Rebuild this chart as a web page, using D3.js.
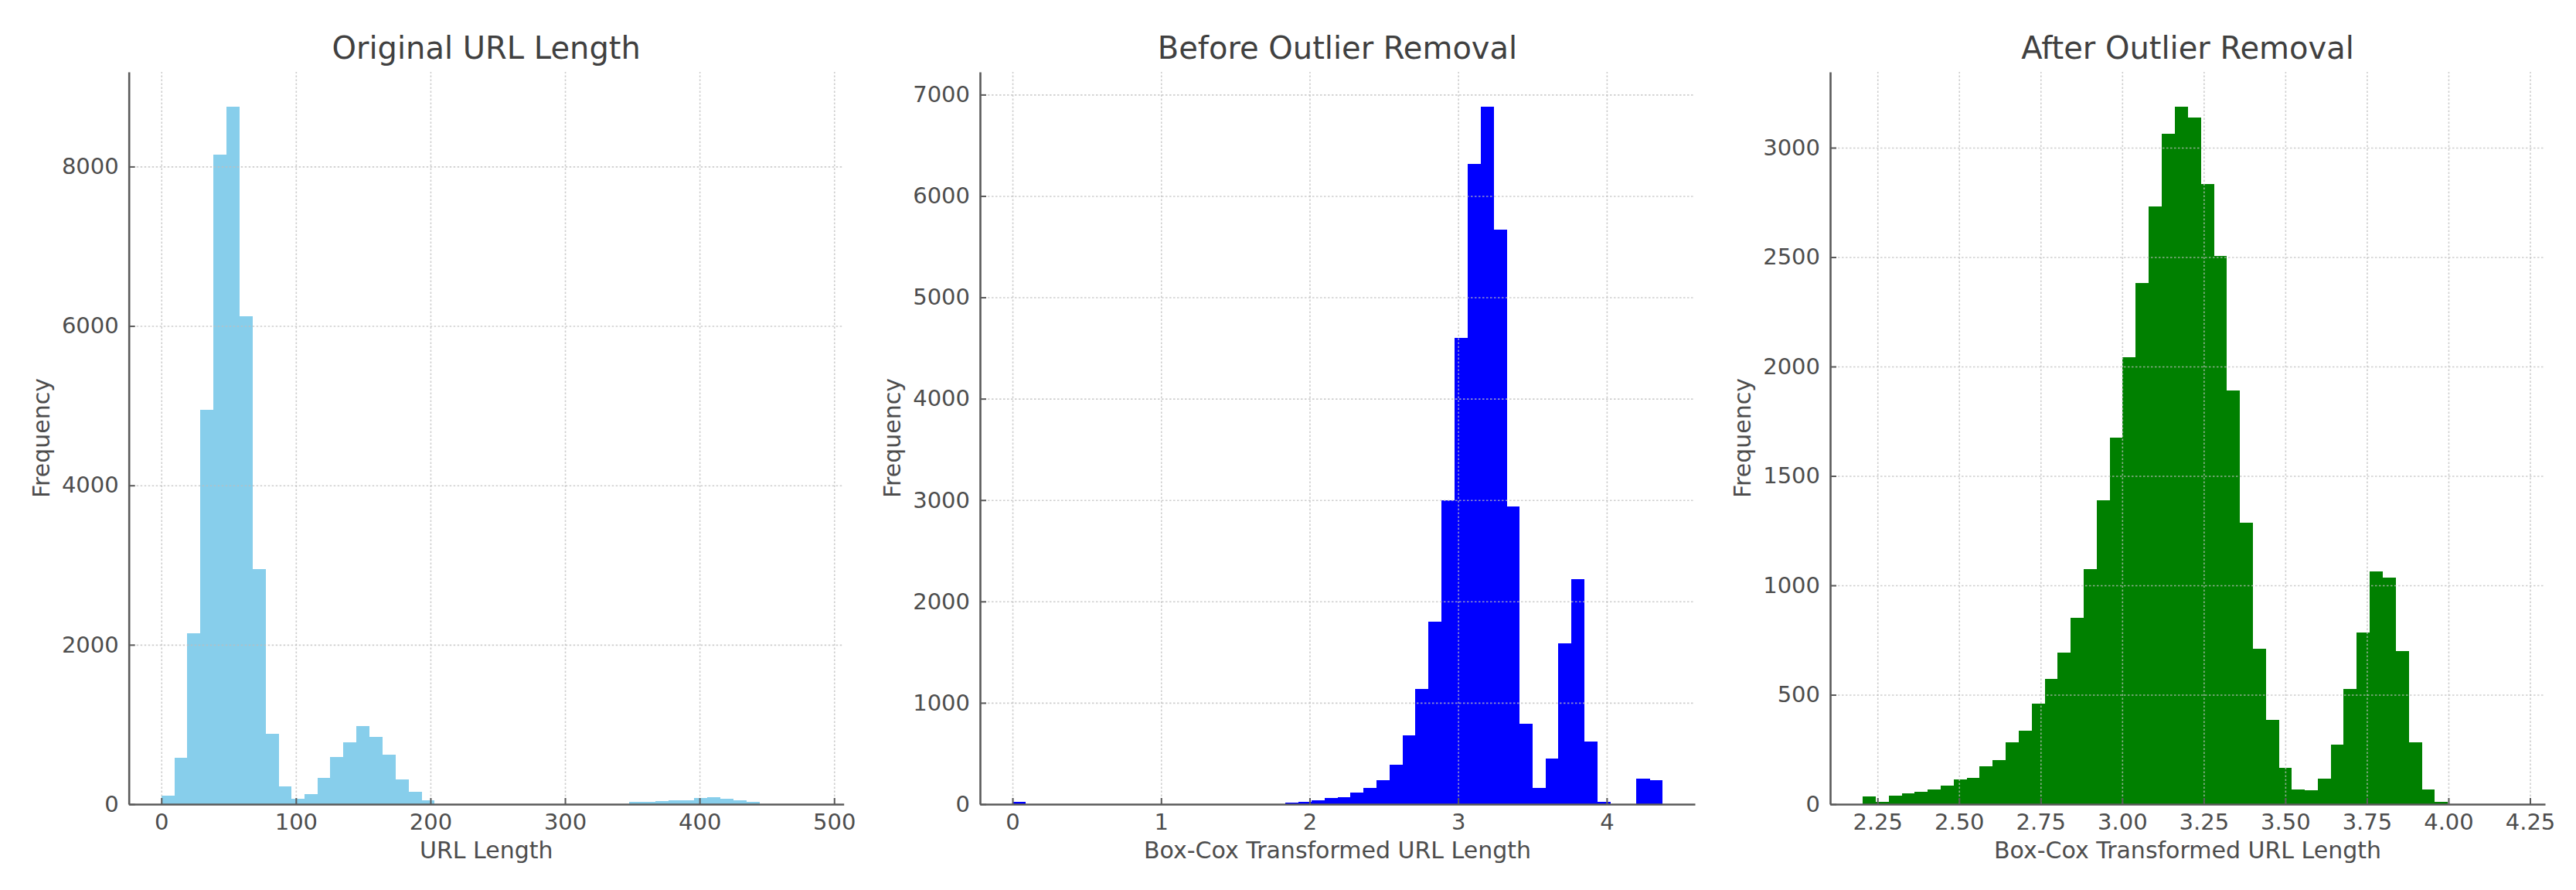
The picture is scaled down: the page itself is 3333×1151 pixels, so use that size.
<!DOCTYPE html>
<html>
<head>
<meta charset="utf-8">
<script src="https://cdnjs.cloudflare.com/ajax/libs/d3/7.8.5/d3.min.js"></script>
<style>
  html, body { margin: 0; padding: 0; background: #ffffff; }
  svg { display: block; }
  text { font-family: "DejaVu Sans", sans-serif; }
</style>
</head>
<body>
<svg id="chart" width="3333" height="1151"></svg>
<script>
// ---------------- DATA ----------------
const panelTitles = ["Original URL Length", "Before Outlier Removal", "After Outlier Removal"];
const xLabels = ["URL Length", "Box-Cox Transformed URL Length", "Box-Cox Transformed URL Length"];
const yLabel = "Frequency";

// Panel 1: original URL length, 50 bins
const originalBinStart = 0;
const originalBinWidth = 9.66;
const originalCounts = [110, 580, 2140, 4950, 8150, 8750, 6120, 2950, 880, 220,
  70, 130, 330, 590, 775, 980, 840, 620, 310, 155,
  45, 0, 0, 0, 0, 0, 0, 0, 0, 0,
  0, 0, 0, 0, 0, 0, 25, 30, 40, 45,
  50, 75, 85, 70, 45, 30, 0, 0, 0, 2];
const originalXTicks = [0, 100, 200, 300, 400, 500];
const originalYTicks = [0, 2000, 4000, 6000, 8000];

// Panel 2: Box-Cox before outlier removal, 50 bins
const beforeBinStart = 0;
const beforeBinWidth = 0.0875;
const beforeCounts = [20, 0, 0, 0, 0, 0, 0, 0, 0, 0,
  0, 0, 0, 0, 0, 0, 0, 0, 0, 0,
  0, 15, 25, 35, 60, 65, 115, 160, 240, 390,
  680, 1140, 1800, 3000, 4600, 6320, 6880, 5670, 2940, 790,
  160, 450, 1585, 2220, 620, 20, 0, 0, 250, 235];
const beforeXTicks = [0, 1, 2, 3, 4];
const beforeYTicks = [0, 1000, 2000, 3000, 4000, 5000, 6000, 7000];

// Panel 3: Box-Cox after outlier removal, 50 bins
const afterBinStart = 2.2046;
const afterBinWidth = 0.03984;
const afterCounts = [36, 12, 38, 50, 56, 68, 86, 113, 120, 174,
  203, 282, 337, 459, 572, 694, 852, 1073, 1389, 1676,
  2044, 2381, 2733, 3065, 3187, 3138, 2835, 2507, 1891, 1288,
  712, 384, 165, 68, 63, 117, 271, 526, 786, 1062,
  1035, 700, 282, 68, 11, 0, 0, 0, 0, 1];
const afterXTicks = [2.25, 2.5, 2.75, 3.0, 3.25, 3.5, 3.75, 4.0, 4.25];
const afterYTicks = [0, 500, 1000, 1500, 2000, 2500, 3000];

const barColors = ["#87CEEB", "#0000FF", "#008000"];

// ---------------- LAYOUT ----------------
const svg = d3.select("#chart");
const plotTop = 93, plotBottom = 1040, plotW = 925;
const plotLefts = [166.7, 1268, 2368];
const innerH = plotBottom - plotTop;

const panels = [
  { start: originalBinStart, width: originalBinWidth, counts: originalCounts,
    xTicks: originalXTicks, yTicks: originalYTicks, xFmt: d3.format("d") },
  { start: beforeBinStart, width: beforeBinWidth, counts: beforeCounts,
    xTicks: beforeXTicks, yTicks: beforeYTicks, xFmt: d3.format("d") },
  { start: afterBinStart, width: afterBinWidth, counts: afterCounts,
    xTicks: afterXTicks, yTicks: afterYTicks, xFmt: d3.format(".2f") }
];

panels.forEach((p, i) => {
  const bins = p.counts.map((c, k) => ({ x0: p.start + k * p.width, x1: p.start + (k + 1) * p.width, count: c }));
  const dataMin = bins[0].x0, dataMax = bins[bins.length - 1].x1;
  const span = dataMax - dataMin;
  const x = d3.scaleLinear().domain([dataMin - 0.05 * span, dataMax + 0.05 * span]).range([0, plotW]);
  const y = d3.scaleLinear().domain([0, d3.max(p.counts) * 1.05]).range([innerH, 0]);

  const g = svg.append("g").attr("transform", `translate(${plotLefts[i]},${plotTop})`);

  // bars
  g.append("g").selectAll("rect").data(bins).join("rect")
    .attr("x", d => x(d.x0))
    .attr("width", d => Math.max(0, x(d.x1) - x(d.x0)) + 0.4)
    .attr("y", d => y(d.count))
    .attr("height", d => innerH - y(d.count))
    .attr("fill", barColors[i])
    .attr("shape-rendering", "crispEdges");

  // grid (drawn over bars, light & dotted)
  const gridX = g.append("g").attr("transform", `translate(0,${innerH})`)
    .call(d3.axisBottom(x).tickValues(p.xTicks).tickSize(-innerH).tickFormat(""));
  const gridY = g.append("g")
    .call(d3.axisLeft(y).tickValues(p.yTicks.filter(v => v !== 0)).tickSize(-plotW).tickFormat(""));
  [gridX, gridY].forEach(gg => {
    gg.select(".domain").remove();
    gg.selectAll("line").attr("stroke", "#bdbdbd").attr("stroke-width", 1.6)
      .attr("stroke-dasharray", "2.5,2.5").attr("opacity", 0.75);
  });

  // axes
  const xAxis = g.append("g").attr("transform", `translate(0,${innerH})`)
    .call(d3.axisBottom(x).tickValues(p.xTicks).tickFormat(p.xFmt).tickSizeInner(-8).tickSizeOuter(0).tickPadding(12));
  const yAxis = g.append("g")
    .call(d3.axisLeft(y).tickValues(p.yTicks).tickFormat(d3.format("d")).tickSizeInner(-8).tickSizeOuter(0).tickPadding(13));
  [xAxis, yAxis].forEach(a => {
    a.select(".domain").attr("stroke", "#5a5a5a").attr("stroke-width", 2.6);
    a.selectAll(".tick line").attr("stroke", "#5a5a5a").attr("stroke-width", 2);
    a.selectAll(".tick text").attr("fill", "#4d4d4d").style("font-size", "29px")
      .style("font-family", "'DejaVu Sans', sans-serif");
  });

  // titles & labels
  g.append("text").attr("x", plotW / 2).attr("y", 76 - plotTop)
    .attr("text-anchor", "middle").attr("fill", "#404040")
    .style("font-size", "40px").text(panelTitles[i]);
  g.append("text").attr("x", plotW / 2).attr("y", 1110 - plotTop)
    .attr("text-anchor", "middle").attr("fill", "#4d4d4d")
    .style("font-size", "30px").text(xLabels[i]);
  g.append("text")
    .attr("transform", `translate(-103,${innerH / 2}) rotate(-90)`)
    .attr("text-anchor", "middle").attr("fill", "#4d4d4d")
    .style("font-size", "30px").text(yLabel);
});
</script>
</body>
</html>
